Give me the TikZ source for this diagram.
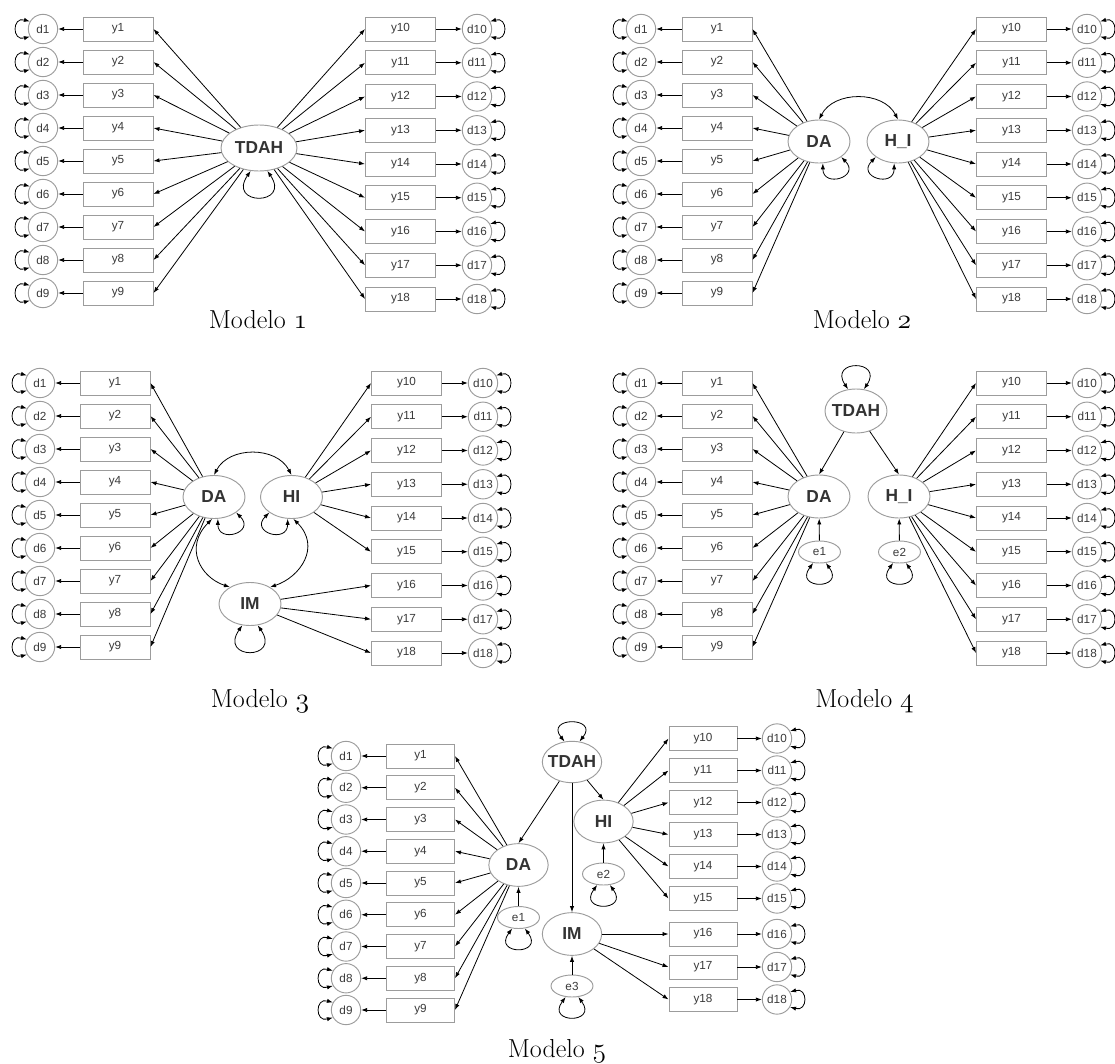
\documentclass[tikz,border=0pt]{standalone}
\usepackage{fontspec}
\setsansfont{Liberation Sans}
\usetikzlibrary{shapes.geometric,arrows.meta}
\definecolor{bordergray}{HTML}{9C9C9C}
\definecolor{txtgray}{HTML}{3A3A3A}
\definecolor{latgray}{HTML}{333333}
\newcommand\osn[1]{{\usefont{OML}{cmm}{m}{it}#1}}
\newcommand\latlab[1]{\makebox[0pt]{#1}}
\tikzset{
  obs/.style={rectangle, draw=bordergray, line width=0.7pt, minimum width=52.5pt, minimum height=18pt, inner sep=0pt, text=txtgray, font=\sffamily\fontsize{8.8}{10}\selectfont},
  obsfive/.style={obs, minimum width=51pt},
  dres/.style={circle, draw=bordergray, line width=0.7pt, minimum size=22pt, inner sep=0pt, text=txtgray, font=\sffamily\fontsize{8.8}{10}\selectfont},
  lat/.style={ellipse, draw=bordergray, line width=0.7pt, minimum width=46.5pt, minimum height=32.25pt, inner sep=0pt, text=latgray, font=\sffamily\bfseries\fontsize{13}{15}\selectfont},
  latfive/.style={lat, minimum width=44.5pt, minimum height=32pt},
  eres/.style={ellipse, draw=bordergray, line width=0.7pt, minimum width=31.5pt, minimum height=16.5pt, inner sep=0pt, text=txtgray, font=\sffamily\fontsize{8.8}{10}\selectfont},
  ar/.style={-{Latex[length=4.5pt,width=3.2pt]}, line width=0.6pt, black},
  dar/.style={{Latex[length=4.5pt,width=3.2pt]}-{Latex[length=4.5pt,width=3.2pt]}, line width=0.6pt, black},
  modelcap/.style={anchor=base, inner sep=0pt, font=\fontsize{19.5}{22}\selectfont, text=black}
}
% prefix, index, d x, box x, y, box style
\newcommand\leftrow[6]{%
  \node[#6] (#1y#2) at (#4,#5) {y#2};
  \node[dres] (#1d#2) at (#3,#5) {d#2};
  \draw[ar] (#1y#2) -- (#1d#2);
  \draw[dar] (#1d#2.150) .. controls +(-18,-5) and +(-18,5) .. (#1d#2.210);
}
\newcommand\rightrow[6]{%
  \node[#6] (#1y#2) at (#4,#5) {y#2};
  \node[dres] (#1d#2) at (#3,#5) {d#2};
  \draw[ar] (#1y#2) -- (#1d#2);
  \draw[dar] (#1d#2.30) .. controls +(18,-5) and +(18,5) .. (#1d#2.330);
}
\begin{document}
\begin{tikzpicture}[x=0.75pt,y=-0.75pt]
\fill[white] (0,0) rectangle (1115,1064);
\useasboundingbox (0,0) rectangle (1115,1064);

% ================= Modelo 1 =================
\foreach \i in {1,...,9}{\pgfmathsetmacro\yy{29+33*(\i-1)}\leftrow{A}{\i}{43}{118}{\yy}{obs}}
\foreach \i in {10,...,18}{\pgfmathsetmacro\yy{29+33.75*(\i-10)}\rightrow{A}{\i}{477}{400.5}{\yy}{obs}}
\node[lat, minimum width=57pt, minimum height=34.5pt] (AT) at (259,148) {\latlab{TDAH}};
\foreach \i in {1,...,9}{\draw[ar] (AT) -- (Ay\i.east);}
\foreach \i in {10,...,18}{\draw[ar] (AT) -- (Ay\i.west);}
\draw[dar] (AT.250) .. controls +(-24,35) and +(24,35) .. (AT.290);
\node[modelcap] (capA) at (258,328) {Modelo \osn{1}};

% ================= Modelo 2 =================
\foreach \i in {1,...,9}{\pgfmathsetmacro\yy{29+33*(\i-1)}\leftrow{B}{\i}{641}{717}{\yy}{obs}}
\foreach \i in {10,...,18}{\pgfmathsetmacro\yy{29+33.75*(\i-10)}\rightrow{B}{\i}{1087}{1011.5}{\yy}{obs}}
\node[lat] (BDA) at (819,141.5) {\latlab{DA}};
\node[lat] (BHI) at (898,141.5) {\latlab{H\_I}};
\foreach \i in {1,...,9}{\draw[ar] (BDA) -- (By\i.east);}
\foreach \i in {10,...,18}{\draw[ar] (BHI) -- (By\i.west);}
\draw[dar] (BDA.north) .. controls +(15,-29) and +(-15,-29) .. (BHI.north);
\draw[dar] (BDA.280) .. controls +(0,25) and +(20,20) .. (BDA.325);
\draw[dar] (BHI.260) .. controls +(0,25) and +(-20,20) .. (BHI.215);
\node[modelcap] (capB) at (862,328) {Modelo \osn{2}};

% ================= Modelo 3 =================
\foreach \i in {1,...,9}{\pgfmathsetmacro\yy{383+33*(\i-1)}\leftrow{C}{\i}{40}{115}{\yy}{obs}}
\foreach \i in {10,...,18}{\pgfmathsetmacro\yy{383+33.75*(\i-10)}\rightrow{C}{\i}{483}{406.5}{\yy}{obs}}
\node[lat] (CDA) at (214,497) {\latlab{DA}};
\node[lat] (CHI) at (291.5,497) {\latlab{HI}};
\node[lat] (CIM) at (250,604) {\latlab{IM}};
\foreach \i in {1,...,9}{\draw[ar] (CDA) -- (Cy\i.east);}
\foreach \i in {10,...,15}{\draw[ar] (CHI) -- (Cy\i.west);}
\foreach \i in {16,...,18}{\draw[ar] (CIM) -- (Cy\i.west);}
\draw[dar] (CDA.north) .. controls +(15,-29) and +(-15,-29) .. (CHI.north);
\draw[dar] (CDA.265) .. controls +(-28,28) and +(-30,-10) .. (CIM.140);
\draw[dar] (CHI.275) .. controls +(28,28) and +(30,-10) .. (CIM.40);
\draw[dar] (CDA.280) .. controls +(0,25) and +(20,20) .. (CDA.325);
\draw[dar] (CHI.260) .. controls +(0,25) and +(-20,20) .. (CHI.215);
\draw[dar] (CIM.250) .. controls +(-24,35) and +(24,35) .. (CIM.290);
\node[modelcap] (capC) at (260,707) {Modelo \osn{3}};

% ================= Modelo 4 =================
\foreach \i in {1,...,9}{\pgfmathsetmacro\yy{383+33*(\i-1)}\leftrow{D}{\i}{641}{717}{\yy}{obs}}
\foreach \i in {10,...,18}{\pgfmathsetmacro\yy{383+33.75*(\i-10)}\rightrow{D}{\i}{1087}{1011.5}{\yy}{obs}}
\node[lat, minimum height=33pt] (DT) at (856,411) {\latlab{TDAH}};
\node[lat] (DDA) at (819,496.5) {\latlab{DA}};
\node[lat] (DHI) at (899,496.5) {\latlab{H\_I}};
\node[eres] (De1) at (819.5,552) {e1};
\node[eres] (De2) at (899.5,552) {e2};
\foreach \i in {1,...,9}{\draw[ar] (DDA) -- (Dy\i.east);}
\foreach \i in {10,...,18}{\draw[ar] (DHI) -- (Dy\i.west);}
\draw[ar] (DT) -- (DDA.north);
\draw[ar] (DT) -- (DHI.north);
\draw[ar] (De1) -- (DDA);
\draw[ar] (De2) -- (DHI);
\draw[dar] (DT.110) .. controls +(-20,-30) and +(20,-30) .. (DT.70);
\draw[dar] (De1.240) .. controls +(-20,27) and +(20,27) .. (De1.300);
\draw[dar] (De2.240) .. controls +(-20,27) and +(20,27) .. (De2.300);
\node[modelcap] (capD) at (864.5,707) {Modelo \osn{4}};

% ================= Modelo 5 =================
\foreach \i in {1,...,9}{\pgfmathsetmacro\yy{756+31.75*(\i-1)}\leftrow{E}{\i}{346}{420.5}{\yy}{obsfive}}
\foreach \i/\yy in {10/738.5,11/770.5,12/802.5,13/834.5,14/866.5,15/898.5,16/934,17/967,18/999.5}{\rightrow{E}{\i}{777}{703}{\yy}{obsfive}}
\node[latfive, minimum height=31pt] (ET) at (572,762) {\latlab{TDAH}};
\node[latfive] (EHI) at (603.5,821.5) {\latlab{HI}};
\node[latfive] (EDA) at (518.5,865) {\latlab{DA}};
\node[latfive] (EIM) at (572,934) {\latlab{IM}};
\node[eres] (Ee1) at (518.5,917.5) {e1};
\node[eres] (Ee2) at (603.5,874) {e2};
\node[eres] (Ee3) at (572,986) {e3};
\foreach \i in {1,...,9}{\draw[ar] (EDA) -- (Ey\i.east);}
\foreach \i in {10,...,15}{\draw[ar] (EHI) -- (Ey\i.west);}
\foreach \i in {16,...,18}{\draw[ar] (EIM) -- (Ey\i.west);}
\draw[ar] (ET) -- (EDA.north);
\draw[ar] (ET) -- (EHI.north);
\draw[ar] (ET) -- (EIM);
\draw[ar] (Ee1) -- (EDA);
\draw[ar] (Ee2) -- (EHI);
\draw[ar] (Ee3) -- (EIM);
\draw[dar] (ET.110) .. controls +(-20,-25) and +(20,-25) .. (ET.70);
\draw[dar] (Ee1.240) .. controls +(-20,27) and +(20,27) .. (Ee1.300);
\draw[dar] (Ee2.240) .. controls +(-20,27) and +(20,27) .. (Ee2.300);
\draw[dar] (Ee3.240) .. controls +(-20,27) and +(20,27) .. (Ee3.300);
\node[modelcap] (capE) at (557,1057) {Modelo \osn{5}};
\end{tikzpicture}
\end{document}
